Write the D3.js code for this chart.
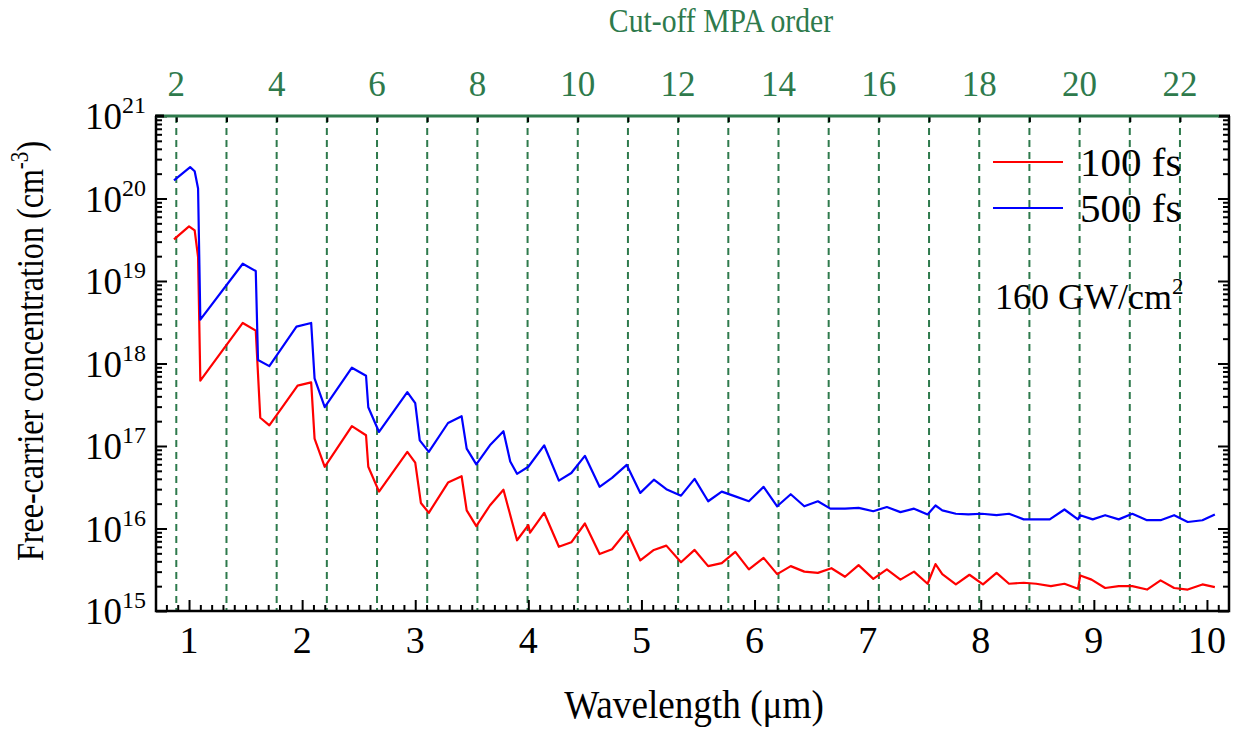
<!DOCTYPE html>
<html>
<head>
<meta charset="utf-8">
<script src="https://cdn.jsdelivr.net/npm/d3@7"></script>
<style>
  body { margin: 0; background: #fff; }
  text { font-family: "Liberation Serif", "Times New Roman", serif; }
</style>
</head>
<body>
<script>
const W = 1240, H = 731
const green = "#2e7a4c"

// wavelength (um) and free-carrier concentration (cm^-3)
const wl100 = [0.867,1.00,1.05,1.08,1.10,1.475,1.59,1.63,1.71,1.96,2.08,2.11,2.20,2.44,2.565,2.585,2.68,2.93,3.00,3.05,3.12,3.29,3.41,3.455,3.54,3.66,3.78,3.90,4.00,4.015,4.14,4.27,4.38,4.50,4.63,4.74,4.87,4.99,5.11,5.22,5.35,5.47,5.59,5.71,5.83,5.95,6.08,6.20,6.32,6.44,6.56,6.68,6.80,6.92,7.05,7.17,7.29,7.41,7.53,7.60,7.66,7.78,7.90,8.02,8.14,8.25,8.38,8.49,8.62,8.74,8.86,8.88,8.98,9.10,9.22,9.34,9.47,9.59,9.71,9.83,9.96,10.07]
const fc100 = [3.2e19,4.6e19,4.1e19,1.95e19,6.2e17,3.1e18,2.5e18,2.2e17,1.78e17,5.4e17,5.9e17,1.23e17,5.6e16,1.74e17,1.35e17,5.6e16,2.8e16,8.5e16,6.3e16,2.04e16,1.55e16,3.6e16,4.3e16,1.66e16,1.07e16,1.9e16,2.95e16,7.2e15,1.1e16,8.9e15,1.55e16,6.0e15,6.8e15,1.15e16,4.9e15,5.6e15,9.3e15,4.1e15,5.5e15,6.2e15,3.9e15,5.5e15,3.5e15,3.8e15,5.2e15,3.2e15,4.4e15,2.8e15,3.5e15,3.0e15,2.9e15,3.3e15,2.6e15,3.6e15,2.45e15,3.2e15,2.4e15,3.0e15,2.14e15,3.7e15,2.8e15,2.1e15,2.75e15,2.1e15,2.9e15,2.14e15,2.2e15,2.14e15,2.0e15,2.14e15,1.86e15,2.7e15,2.4e15,1.9e15,2.0e15,2.0e15,1.82e15,2.35e15,1.9e15,1.82e15,2.1e15,1.95e15]

const wl500 = [0.867,1.01,1.05,1.08,1.10,1.475,1.59,1.61,1.71,1.95,2.08,2.11,2.20,2.44,2.565,2.585,2.68,2.93,3.00,3.04,3.12,3.29,3.41,3.455,3.54,3.66,3.78,3.84,3.90,4.00,4.14,4.27,4.38,4.50,4.63,4.74,4.87,4.99,5.11,5.22,5.35,5.47,5.59,5.71,5.83,5.95,6.08,6.20,6.32,6.44,6.56,6.67,6.80,6.92,7.05,7.17,7.29,7.41,7.53,7.60,7.66,7.78,7.89,8.01,8.14,8.25,8.38,8.61,8.74,8.86,8.88,8.99,9.10,9.22,9.34,9.47,9.59,9.71,9.83,9.96,10.07]
const fc500 = [1.66e20,2.4e20,2.14e20,1.32e20,3.4e18,1.62e19,1.32e19,1.1e18,9.3e17,2.8e18,3.1e18,6.6e17,2.95e17,8.9e17,7.1e17,2.95e17,1.48e17,4.5e17,3.3e17,1.17e17,8.5e16,1.9e17,2.3e17,9.3e16,6.0e16,1.02e17,1.51e17,6.5e16,4.6e16,5.6e16,1.02e17,3.8e16,4.7e16,7.6e16,3.2e16,4.1e16,5.9e16,2.7e16,3.9e16,3.0e16,2.5e16,4.0e16,2.14e16,2.8e16,2.45e16,2.14e16,3.2e16,1.86e16,2.6e16,1.86e16,2.14e16,1.74e16,1.74e16,1.78e16,1.62e16,1.82e16,1.58e16,1.74e16,1.48e16,1.9e16,1.66e16,1.51e16,1.48e16,1.51e16,1.45e16,1.51e16,1.29e16,1.29e16,1.7e16,1.29e16,1.45e16,1.29e16,1.45e16,1.29e16,1.51e16,1.26e16,1.26e16,1.45e16,1.2e16,1.26e16,1.48e16]

// cut-off MPA order n sits at wavelength n * lambda0
const lambda0 = 0.4437
const orders = d3.range(2, 24)
const orderLabels = d3.range(2, 23, 2)
const xTicks = d3.range(1, 11)
const yDecades = d3.range(15, 22)

const series = [
  {name: "100 fs", wl: wl100, fc: fc100, color: "#ff0000"},
  {name: "500 fs", wl: wl500, fc: fc500, color: "#0000ff"}
]

const L = 156, R = 1229, T = 116, B = 611

const svg = d3.select("body").append("svg")
  .attr("width", W).attr("height", H)

const x = d3.scaleLinear().domain([0.708, 10.195]).range([L, R])
const xo = d3.scaleLinear().domain(x.domain().map(d => d / lambda0)).range([L, R])
const y = d3.scaleLog().domain([1e15, 1e21]).range([B, T])

// dashed order lines
svg.append("g").selectAll("line")
  .data(orders.filter(n => xo(n) < R - 3))
  .enter().append("line")
    .attr("x1", d => xo(d)).attr("x2", d => xo(d))
    .attr("y1", T).attr("y2", B)
    .attr("stroke", green).attr("stroke-width", 2)
    .attr("stroke-dasharray", "7,5")

// curves
const line = d3.line()
  .x(d => x(d[0]))
  .y(d => y(d[1]))

series.forEach(s => {
  svg.append("path")
    .attr("d", line(d3.zip(s.wl, s.fc)))
    .attr("fill", "none")
    .attr("stroke", s.color)
    .attr("stroke-width", 2.2)
    .attr("stroke-linejoin", "round")
})

// minor values for log axis
const yMinor = []
yDecades.slice(0, -1).forEach(k => {
  for (let m = 2; m <= 9; m++) yMinor.push(m * Math.pow(10, k))
})
const xMinor = d3.range(0.8, 10.2, 0.1).filter(v => Math.abs(v - Math.round(v)) > 0.01)

function styleAxis(g, col) {
  g.select(".domain").remove()
  g.selectAll("line").attr("stroke", col).attr("stroke-width", 2)
  g.selectAll("text").remove()
}

// bottom axis
svg.append("g").attr("transform", `translate(0,${B})`)
  .call(d3.axisBottom(x).tickValues(xTicks).tickSize(-11))
  .call(g => styleAxis(g, "#000"))
svg.append("g").attr("transform", `translate(0,${B})`)
  .call(d3.axisBottom(x).tickValues(xMinor).tickSize(-6))
  .call(g => styleAxis(g, "#000"))

// left and right axes
;[[d3.axisLeft, L], [d3.axisRight, R]].forEach(([ax, px]) => {
  svg.append("g").attr("transform", `translate(${px},0)`)
    .call(ax(y).tickValues(yDecades.map(k => Math.pow(10, k))).tickSize(-11))
    .call(g => styleAxis(g, "#000"))
  svg.append("g").attr("transform", `translate(${px},0)`)
    .call(ax(y).tickValues(yMinor).tickSize(-6))
    .call(g => styleAxis(g, "#000"))
})

// top axis ticks
svg.append("g").attr("transform", `translate(0,${T})`)
  .call(d3.axisTop(xo).tickValues(orders.filter(n => xo(n) < R - 3)).tickSize(-6))
  .call(g => styleAxis(g, "#000"))

// frame
svg.append("path")
  .attr("d", `M${L},${T} L${L},${B} L${R},${B} L${R},${T}`)
  .attr("fill", "none").attr("stroke", "#000").attr("stroke-width", 2.5)
svg.append("line")
  .attr("x1", L).attr("x2", R - 10).attr("y1", T).attr("y2", T)
  .attr("stroke", green).attr("stroke-width", 3)
svg.append("line")
  .attr("x1", R - 10).attr("x2", R + 1).attr("y1", T).attr("y2", T)
  .attr("stroke", "#000").attr("stroke-width", 3)
svg.append("line")
  .attr("x1", L - 1).attr("x2", L + 8).attr("y1", T).attr("y2", T)
  .attr("stroke", "#000").attr("stroke-width", 3)

// tick labels
svg.append("g").selectAll("text")
  .data(xTicks).enter().append("text")
    .attr("x", d => x(d)).attr("y", 653)
    .attr("text-anchor", "middle")
    .attr("font-size", 38)
    .text(d => d)

svg.append("g").selectAll("text")
  .data(orderLabels).enter().append("text")
    .attr("x", d => xo(d)).attr("y", 96)
    .attr("text-anchor", "middle")
    .attr("font-size", 35)
    .attr("fill", green)
    .text(d => d)

const yl = svg.append("g").selectAll("text")
  .data(yDecades).enter().append("text")
    .attr("x", 122).attr("y", d => y(Math.pow(10, d)) + 13)
    .attr("text-anchor", "end")
    .attr("font-size", 37)
yl.append("tspan").text("10")
yl.append("tspan")
  .attr("dy", -16).attr("font-size", 24).attr("x", 122).attr("text-anchor", "start")
  .text(d => d)

// titles (the original font is tall and narrow)
svg.append("text")
  .attr("transform", "translate(694,718) scale(0.93,1)")
  .attr("text-anchor", "middle").attr("font-size", 40)
  .text("Wavelength (\u03bcm)")

svg.append("text")
  .attr("transform", "translate(721,32) scale(0.9,1)")
  .attr("text-anchor", "middle").attr("font-size", 33)
  .attr("fill", green)
  .text("Cut-off MPA order")

const yt = svg.append("text")
  .attr("transform", "translate(43,351) rotate(-90) scale(0.845,1)")
  .attr("text-anchor", "middle").attr("font-size", 38)
yt.append("tspan").text("Free-carrier concentration (cm")
yt.append("tspan").attr("dy", -15).attr("font-size", 25).text("-3")
yt.append("tspan").attr("dy", 15).text(")")

// legend
const leg = svg.append("g")
series.forEach((s, i) => {
  const ly = 162 + i * 46
  leg.append("line")
    .attr("x1", 993).attr("x2", 1063).attr("y1", ly).attr("y2", ly)
    .attr("stroke", s.color).attr("stroke-width", 2.2)
  leg.append("text")
    .attr("x", 1080).attr("y", ly + 14)
    .attr("font-size", 41)
    .text(s.name)
})

const note = svg.append("text")
  .attr("x", 995).attr("y", 309).attr("font-size", 36)
note.append("tspan").text("160 GW/cm")
note.append("tspan").attr("dy", -15).attr("font-size", 23).text("2")
</script>
</body>
</html>
